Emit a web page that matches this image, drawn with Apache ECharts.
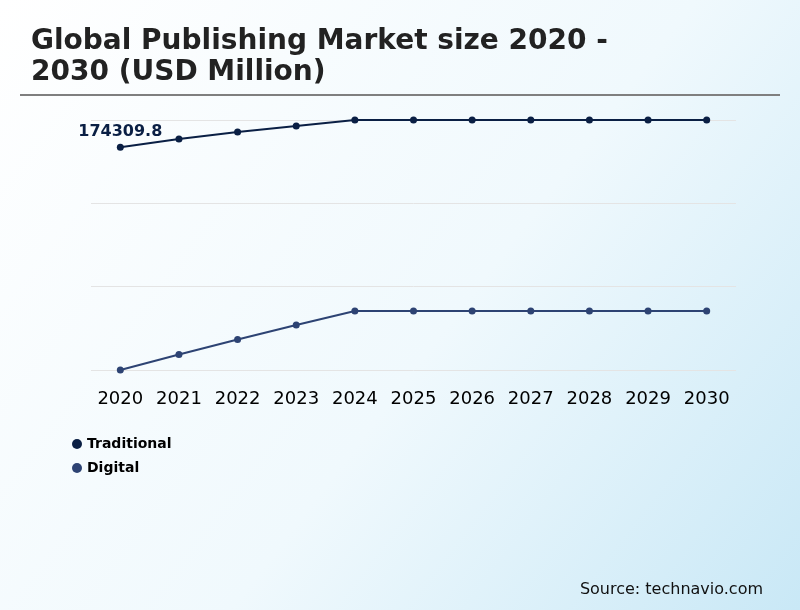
<!DOCTYPE html>
<html>
<head>
<meta charset="utf-8">
<script src="https://cdn.jsdelivr.net/npm/echarts@6/dist/echarts.min.js"></script>
<style>
html, body { margin: 0; padding: 0; }
#mainchart { width: 800px; height: 610px; }
</style>
</head>
<body>
<div id="mainchart"></div>
<script>
var years = ['2020', '2021', '2022', '2023', '2024', '2025', '2026', '2027', '2028', '2029', '2030'];
var traditional = [174309.8, 179700, 184200, 188100, 192000, 192000, 192000, 192000, 192000, 192000, 192000];
var digital = [30000, 40000, 49800, 59100, 68200, 68200, 68200, 68200, 68200, 68200, 68200];
var yMin = 30000, yMax = 192000;

function drawPublishingChart() {
	var chart = echarts.init(document.getElementById('mainchart'));
	var option = {
		animation : false,
		backgroundColor : {
			type : 'linear', x : 0, y : 0, x2 : 1, y2 : 1,
			colorStops : [
				{offset : 0, color : '#ffffff'},
				{offset : 0.55, color : '#f0f9fd'},
				{offset : 1, color : '#c9e8f6'}
			]
		},
		title : {
			text : 'Global Publishing Market size 2020 -\n2030 (USD Million)',
			left : 26,
			top : 21,
			textStyle : {
				fontFamily : 'DejaVu Sans',
				fontSize : 28,
				fontWeight : 'bold',
				lineHeight : 31,
				color : '#222222'
			}
		},
		graphic : [{
			type : 'line',
			shape : {x1 : 20, y1 : 95, x2 : 780, y2 : 95},
			style : {stroke : '#7f7f7f', lineWidth : 2}
		}, {
			type : 'text',
			right : 37,
			bottom : 12,
			style : {
				text : 'Source: technavio.com',
				font : '16px "DejaVu Sans"',
				fill : '#111111'
			}
		}],
		legend : {
			orient : 'vertical',
			left : 67,
			top : 432,
			icon : 'circle',
			itemWidth : 10,
			itemHeight : 10,
			itemGap : 10,
			textStyle : {
				fontFamily : 'DejaVu Sans',
				fontSize : 14,
				fontWeight : 'bold',
				color : '#000000'
			},
			data : ['Traditional', 'Digital']
		},
		grid : {
			left : 91,
			right : 64,
			top : 120,
			bottom : 240
		},
		xAxis : {
			type : 'category',
			boundaryGap : true,
			data : years,
			axisLine : {show : false},
			axisTick : {show : false},
			axisLabel : {
				interval : 0,
				margin : 20,
				fontFamily : 'DejaVu Sans',
				fontSize : 18,
				color : '#000000'
			}
		},
		yAxis : {
			type : 'value',
			min : yMin,
			max : yMax,
			interval : (yMax - yMin) / 3,
			axisLabel : {show : false},
			axisLine : {show : false},
			axisTick : {show : false},
			splitLine : {lineStyle : {color : '#e4e4e4', width : 1}}
		},
		series : [{
			name : 'Traditional',
			type : 'line',
			data : traditional,
			symbol : 'circle',
			symbolSize : 7,
			color : '#0a1f44',
			lineStyle : {width : 2},
			label : {
				show : true,
				position : 'top',
				distance : 4,
				fontFamily : 'DejaVu Sans',
				fontSize : 16,
				fontWeight : 'bold',
				color : '#0a1f44',
				formatter : function (p) {
					return p.dataIndex === 0 ? p.value : '';
				}
			}
		}, {
			name : 'Digital',
			type : 'line',
			data : digital,
			symbol : 'circle',
			symbolSize : 7,
			color : '#2d4373',
			lineStyle : {width : 2}
		}]
	};
	chart.setOption(option);
}
drawPublishingChart();
</script>
</body>
</html>
